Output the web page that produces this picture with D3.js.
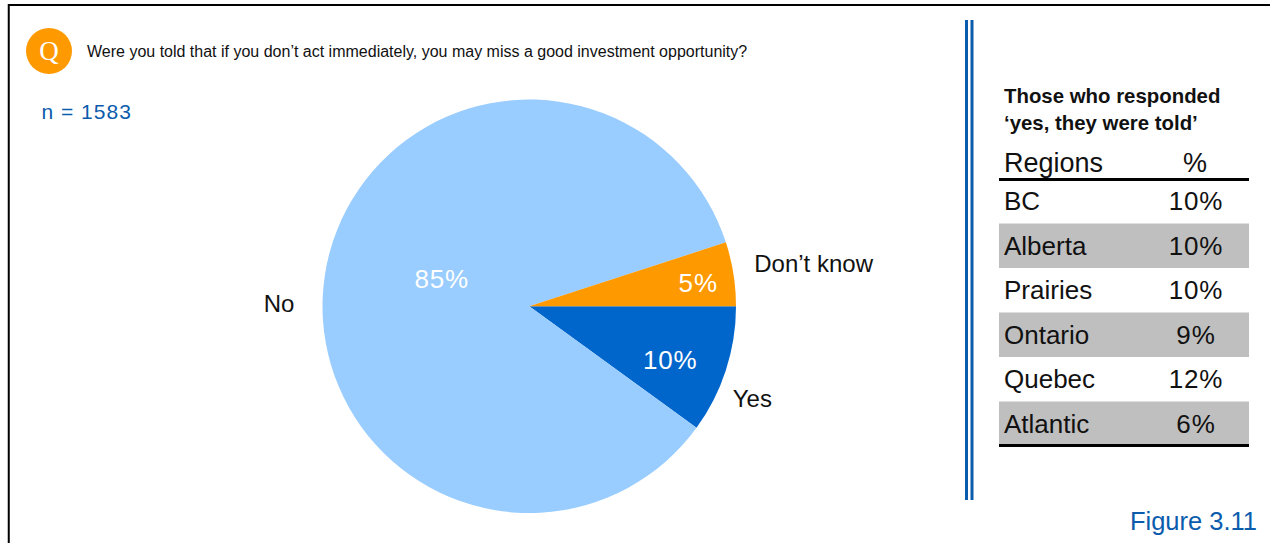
<!DOCTYPE html>
<html>
<head>
<meta charset="utf-8">
<script src="https://cdn.jsdelivr.net/npm/d3@7"></script>
<style>
html,body{margin:0;padding:0;background:#fff;overflow:hidden}
svg{display:block}
text{font-family:"Liberation Sans",Arial,sans-serif}
</style>
</head>
<body>
<svg id="chart" width="1270" height="543"></svg>
<script>
// Survey answers, clockwise starting at the lower-right slice
const answers = ["Yes", "No", "Don\u2019t know"];
const shares = [10, 85, 5];
const sliceColors = ["#0066CC", "#99CCFF", "#FF9900"];

// Regional breakdown of the "yes" answers
const regions = ["BC", "Alberta", "Prairies", "Ontario", "Quebec", "Atlantic"];
const regionShares = [10, 10, 10, 9, 12, 6];

const questionText = "Were you told that if you don\u2019t act immediately, you may miss a good investment opportunity?";
const sampleText = "n = 1583";
const figureText = "Figure 3.11";
const sideTitle = ["Those who responded", "\u2018yes, they were told\u2019"];
const tableHead = ["Regions", "%"];

const inkBlue = "#0B5CAD";
const svg = d3.select("#chart");

// Panel frame: top and left edges only
svg.append("path")
  .attr("d", "M8.75,543V5H1270")
  .attr("fill", "none").attr("stroke", "#000").attr("stroke-width", 2);

// Question badge and wording
svg.append("circle").attr("cx", 49).attr("cy", 51).attr("r", 23).attr("fill", "#FF9900");
svg.append("text").attr("x", 49).attr("y", 60)
  .attr("text-anchor", "middle").attr("fill", "#fff")
  .attr("font-size", 27)
  .style("font-family", "'Liberation Serif',serif")
  .text("Q");
svg.append("text").attr("x", 87).attr("y", 57)
  .attr("font-size", 16).attr("fill", "#111").text(questionText);
svg.append("text").attr("x", 41.5).attr("y", 119)
  .attr("font-size", 21).attr("letter-spacing", 1).attr("fill", inkBlue).text(sampleText);

// Pie chart
const cx = 529.25, cy = 306.25, radius = 206.75;
const pie = d3.pie().sort(null).value(d => d).startAngle(Math.PI / 2).endAngle(Math.PI * 2.5);
const arc = d3.arc().innerRadius(0).outerRadius(radius);
const arcs = pie(shares);
const pieGroup = svg.append("g").attr("transform", `translate(${cx},${cy})`);
pieGroup.selectAll("path").data(arcs).join("path")
  .attr("d", arc)
  .attr("fill", (d, i) => sliceColors[i]);

// Percent labels inside the slices, answer names beyond the rim
const valueSpots = [[141, 63], [-87.5, -18], [169, -14]];
pieGroup.selectAll("text.value").data(arcs).join("text")
  .attr("class", "value")
  .attr("x", (d, i) => valueSpots[i][0])
  .attr("y", (d, i) => valueSpots[i][1])
  .attr("text-anchor", "middle")
  .attr("font-size", 26).attr("letter-spacing", 0.9).attr("fill", "#fff")
  .text(d => d.value + "%");

const labelSpots = [[203.5, 101], [-265.5, 6], [225, -34]];
pieGroup.selectAll("text.name").data(arcs).join("text")
  .attr("class", "name")
  .attr("x", (d, i) => labelSpots[i][0])
  .attr("y", (d, i) => labelSpots[i][1])
  .attr("font-size", 24).attr("fill", "#111")
  .text((d, i) => answers[i]);

// Double rule separating the side table
[966.5, 972].forEach(x => {
  svg.append("line").attr("x1", x).attr("x2", x).attr("y1", 20).attr("y2", 500)
    .attr("stroke", inkBlue).attr("stroke-width", 3);
});

// Side table
const tableLeft = 999, tableRight = 1249, textLeft = 1004, pctCentre = 1196;
const rowY = d3.scaleBand().domain(regions).range([179, 446]);

sideTitle.forEach((line, i) => {
  svg.append("text").attr("x", textLeft).attr("y", 103 + i * 27)
    .attr("font-size", 20.4).attr("font-weight", 700).attr("fill", "#111").text(line);
});
svg.append("text").attr("x", textLeft).attr("y", 172).attr("font-size", 27).attr("fill", "#111").text(tableHead[0]);
svg.append("text").attr("x", pctCentre - 1).attr("y", 172).attr("text-anchor", "middle").attr("font-size", 27).attr("fill", "#111").text(tableHead[1]);

const rows = svg.append("g").selectAll("g").data(regions).join("g");
rows.filter((d, i) => i % 2 === 1).append("rect")
  .attr("x", tableLeft).attr("width", tableRight - tableLeft)
  .attr("y", d => rowY(d)).attr("height", rowY.bandwidth())
  .attr("fill", "#BFBFBF");
rows.append("text").attr("x", textLeft)
  .attr("y", d => rowY(d) + 31).attr("font-size", 26).attr("fill", "#111").text(d => d);
rows.append("text").attr("x", pctCentre)
  .attr("y", d => rowY(d) + 31).attr("text-anchor", "middle").attr("font-size", 26).attr("letter-spacing", 0.9).attr("fill", "#111")
  .text((d, i) => regionShares[i] + "%");

[179.5, 445.5].forEach(y => {
  svg.append("line").attr("x1", tableLeft).attr("x2", tableRight).attr("y1", y).attr("y2", y)
    .attr("stroke", "#000").attr("stroke-width", 3);
});

svg.append("text").attr("x", 1257).attr("y", 530).attr("text-anchor", "end")
  .attr("font-size", 25.5).attr("fill", inkBlue).text(figureText);
</script>
</body>
</html>
